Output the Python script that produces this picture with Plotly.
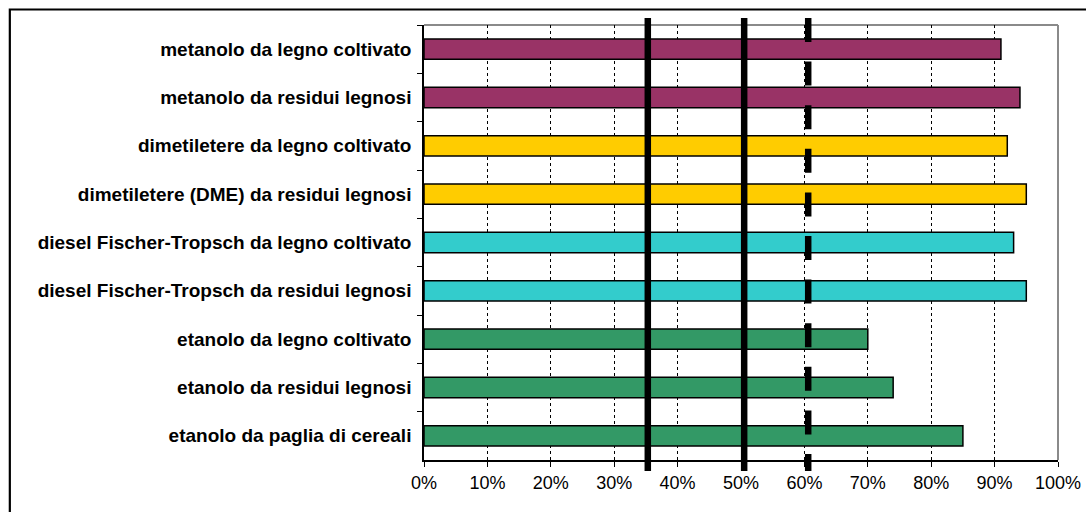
import plotly.graph_objects as go

# Biofuel pathways (top to bottom) and their values in percent
categories = [
    "metanolo da legno coltivato",
    "metanolo da residui legnosi",
    "dimetiletere da legno coltivato",
    "dimetiletere (DME) da residui legnosi",
    "diesel Fischer-Tropsch da legno coltivato",
    "diesel Fischer-Tropsch da residui legnosi",
    "etanolo da legno coltivato",
    "etanolo da residui legnosi",
    "etanolo da paglia di cereali",
]
values = [91, 94, 92, 95, 93, 95, 70, 74, 85]
bar_colors = [
    "#993366", "#993366",
    "#FFCC00", "#FFCC00",
    "#33CCCC", "#33CCCC",
    "#339966", "#339966", "#339966",
]

# Reference thresholds drawn as thick vertical lines
solid_thresholds = [35.3, 50.5]
dashed_thresholds = [60.6]

tick_values = list(range(0, 101, 10))
tick_labels = [f"{v}%" for v in tick_values]

W, H = 1086, 512
L, R, T, B = 423.5, 28, 25, 52
plot_w = W - L - R
plot_h = H - T - B

fig = go.Figure()
fig.add_trace(go.Bar(
    y=categories,
    x=values,
    orientation="h",
    marker=dict(color=bar_colors, line=dict(color="black", width=1.5)),
    width=0.42,
    hoverinfo="x+y",
))

shapes = []
y_top = 1 + 7 / plot_h
y_bot = -11 / plot_h
for v in solid_thresholds:
    shapes.append(dict(type="line", xref="x", yref="paper", x0=v, x1=v,
                       y0=y_top, y1=y_bot, line=dict(color="black", width=6.5),
                       layer="above"))
for v in dashed_thresholds:
    shapes.append(dict(type="line", xref="x", yref="paper", x0=v, x1=v,
                       y0=y_top, y1=y_bot,
                       line=dict(color="black", width=6.5, dash="24px,19.6px"),
                       layer="above"))

# Grey frame on the top and right of the plot area
shapes.append(dict(type="line", xref="paper", yref="paper", x0=0, x1=1, y0=1, y1=1,
                   line=dict(color="#8a8a8a", width=2), layer="below"))
shapes.append(dict(type="line", xref="paper", yref="paper", x0=1, x1=1, y0=0, y1=1,
                   line=dict(color="#8a8a8a", width=2), layer="below"))

# Outer chart border
shapes.append(dict(type="rect", xref="paper", yref="paper",
                   x0=(9 - L) / plot_w, x1=(W + 20 - L) / plot_w,
                   y0=-(B + 20) / plot_h, y1=1 + (T - 9.5) / plot_h,
                   line=dict(color="black", width=2.2), fillcolor="rgba(0,0,0,0)",
                   layer="above"))

fig.update_layout(
    width=W, height=H,
    margin=dict(l=L, r=R, t=T, b=B, pad=0, autoexpand=False),
    paper_bgcolor="white",
    plot_bgcolor="white",
    showlegend=False,
    shapes=shapes,
    font=dict(family="Liberation Sans, Arial, sans-serif", color="black"),
)

fig.update_xaxes(
    range=[0, 100],
    tickvals=tick_values,
    ticktext=tick_labels,
    ticks="outside", ticklen=5, tickwidth=1.2, tickcolor="black",
    showline=True, linecolor="black", linewidth=1.5,
    showgrid=True, gridcolor="black", gridwidth=1, griddash="dot",
    zeroline=False, automargin=False,
    tickfont=dict(size=18, family="Liberation Sans, Arial, sans-serif"),
    ticklabelstandoff=1,
    fixedrange=True,
)
fig.update_yaxes(
    categoryorder="array", categoryarray=categories,
    autorange="reversed",
    ticks="outside", ticklen=5, tickwidth=1.2, tickcolor="black",
    tickson="boundaries",
    showline=True, linecolor="black", linewidth=1.5,
    showgrid=False, zeroline=False, automargin=False,
    tickfont=dict(size=19, family="Liberation Sans, Arial, sans-serif", weight="bold"),
    ticklabelstandoff=7,
    fixedrange=True,
)

fig.write_html("out.html", config={"displayModeBar": False})
